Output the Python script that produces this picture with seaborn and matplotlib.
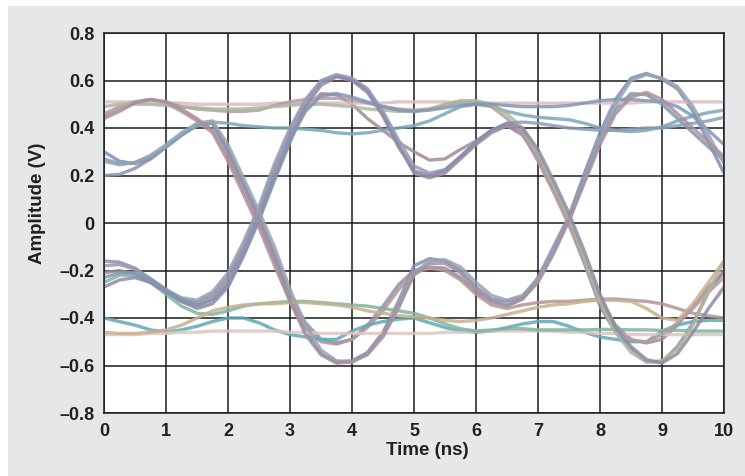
import pandas as pd
import matplotlib.pyplot as plt
import seaborn as sns
from matplotlib.patches import Rectangle

# sample times (ns) shared by every trace
time_ns = [0, 0.25, 0.5, 0.75, 1, 1.25, 1.5, 1.75, 2, 2.25,
           2.5, 2.75, 3, 3.25, 3.5, 3.75, 4, 4.25, 4.5, 4.75,
           5, 5.25, 5.5, 5.75, 6, 6.25, 6.5, 6.75, 7, 7.25,
           7.5, 7.75, 8, 8.25, 8.5, 8.75, 9, 9.25, 9.5, 9.75, 10]

# amplitude (V) of each captured trace
trace_a = [0.30, 0.26, 0.25, 0.27, 0.32, 0.37, 0.415, 0.42, 0.30, 0.16,
           0.02, -0.14, -0.32, -0.46, -0.55, -0.585, -0.58, -0.545, -0.46, -0.33,
           -0.18, -0.15, -0.16, -0.20, -0.27, -0.32, -0.33, -0.31, -0.23, -0.10,
           0.03, 0.21, 0.38, 0.52, 0.61, 0.63, 0.605, 0.565, 0.47, 0.34, 0.21]
trace_b = [-0.16, -0.165, -0.19, -0.235, -0.28, -0.325, -0.335, -0.305, -0.23, -0.10,
           0.05, 0.23, 0.38, 0.51, 0.595, 0.62, 0.605, 0.56, 0.46, 0.33,
           0.21, 0.19, 0.21, 0.27, 0.33, 0.38, 0.41, 0.38, 0.28, 0.15,
           0.00, -0.17, -0.35, -0.46, -0.53, -0.585, -0.585, -0.52, -0.42, -0.29, -0.20]
trace_c = [0.20, 0.205, 0.23, 0.27, 0.32, 0.37, 0.41, 0.42, 0.31, 0.17,
           0.03, -0.13, -0.30, -0.42, -0.49, -0.505, -0.49, -0.43, -0.35, -0.26,
           -0.20, -0.185, -0.19, -0.23, -0.29, -0.33, -0.35, -0.32, -0.24, -0.12,
           0.02, 0.19, 0.35, 0.48, 0.545, 0.54, 0.50, 0.44, 0.38, 0.32, 0.265]
trace_d = [-0.21, -0.20, -0.215, -0.25, -0.29, -0.33, -0.35, -0.32, -0.25, -0.12,
           0.03, 0.20, 0.36, 0.48, 0.545, 0.54, 0.50, 0.44, 0.39, 0.34,
           0.30, 0.265, 0.27, 0.31, 0.345, 0.39, 0.41, 0.37, 0.27, 0.14,
           0.01, -0.16, -0.32, -0.43, -0.49, -0.505, -0.49, -0.43, -0.35, -0.27, -0.21]
trace_e = [0.45, 0.48, 0.51, 0.52, 0.505, 0.47, 0.43, 0.38, 0.26, 0.12,
           -0.02, -0.18, -0.33, -0.44, -0.50, -0.51, -0.49, -0.44, -0.37, -0.28,
           -0.21, -0.19, -0.20, -0.24, -0.30, -0.345, -0.36, -0.345, -0.335, -0.33,
           -0.33, -0.325, -0.32, -0.32, -0.325, -0.33, -0.34, -0.36, -0.38, -0.39, -0.40]
trace_f = [-0.40, -0.415, -0.43, -0.45, -0.46, -0.45, -0.435, -0.415, -0.40, -0.40,
           -0.42, -0.45, -0.47, -0.48, -0.49, -0.49, -0.455, -0.43, -0.415, -0.405,
           -0.40, -0.42, -0.44, -0.455, -0.46, -0.455, -0.44, -0.425, -0.415, -0.415,
           -0.435, -0.46, -0.48, -0.49, -0.50, -0.50, -0.455, -0.43, -0.415, -0.41, -0.41]
trace_g = [-0.47, -0.47, -0.47, -0.465, -0.465, -0.46, -0.46, -0.455, -0.455, -0.455,
           -0.455, -0.455, -0.46, -0.46, -0.465, -0.465, -0.465, -0.465, -0.465, -0.465,
           -0.465, -0.465, -0.46, -0.46, -0.455, -0.455, -0.455, -0.455, -0.455, -0.455,
           -0.46, -0.46, -0.465, -0.465, -0.47, -0.47, -0.47, -0.47, -0.47, -0.47, -0.47]
trace_h = [-0.25, -0.22, -0.22, -0.25, -0.30, -0.35, -0.38, -0.385, -0.37, -0.35,
           -0.34, -0.335, -0.33, -0.33, -0.335, -0.34, -0.345, -0.35, -0.36, -0.37,
           -0.38, -0.40, -0.425, -0.445, -0.455, -0.45, -0.445, -0.445, -0.45, -0.45,
           -0.45, -0.45, -0.448, -0.448, -0.45, -0.45, -0.452, -0.452, -0.455, -0.455, -0.455]
trace_i = [0.51, 0.51, 0.51, 0.505, 0.505, 0.505, 0.50, 0.50, 0.50, 0.50,
           0.50, 0.505, 0.505, 0.505, 0.505, 0.505, 0.505, 0.505, 0.505, 0.51,
           0.51, 0.51, 0.51, 0.505, 0.505, 0.505, 0.505, 0.505, 0.505, 0.505,
           0.505, 0.505, 0.505, 0.505, 0.505, 0.51, 0.51, 0.51, 0.51, 0.51, 0.51]
trace_j = [0.27, 0.25, 0.255, 0.28, 0.32, 0.37, 0.41, 0.425, 0.42, 0.41,
           0.405, 0.40, 0.40, 0.395, 0.39, 0.38, 0.375, 0.38, 0.39, 0.40,
           0.41, 0.43, 0.46, 0.49, 0.50, 0.49, 0.47, 0.455, 0.445, 0.44,
           0.435, 0.42, 0.40, 0.39, 0.385, 0.39, 0.405, 0.43, 0.45, 0.465, 0.475]
trace_k = [0.46, 0.49, 0.51, 0.52, 0.51, 0.49, 0.48, 0.475, 0.47, 0.47,
           0.475, 0.495, 0.51, 0.52, 0.525, 0.525, 0.52, 0.505, 0.49, 0.48,
           0.475, 0.48, 0.495, 0.51, 0.51, 0.49, 0.44, 0.38, 0.26, 0.13,
           -0.01, -0.17, -0.33, -0.44, -0.495, -0.50, -0.47, -0.42, -0.36, -0.29, -0.23]
trace_l = [0.49, 0.50, 0.50, 0.50, 0.495, 0.49, 0.485, 0.48, 0.48, 0.48,
           0.485, 0.49, 0.495, 0.50, 0.50, 0.495, 0.49, 0.48, 0.475, 0.47,
           0.47, 0.48, 0.50, 0.515, 0.515, 0.50, 0.46, 0.40, 0.29, 0.16,
           0.02, -0.15, -0.33, -0.46, -0.545, -0.585, -0.58, -0.53, -0.43, -0.29, -0.16]
trace_m = [-0.18, -0.175, -0.195, -0.235, -0.28, -0.315, -0.325, -0.29, -0.21, -0.08,
           0.07, 0.25, 0.40, 0.52, 0.60, 0.625, 0.61, 0.565, 0.47, 0.35,
           0.24, 0.21, 0.225, 0.28, 0.34, 0.39, 0.42, 0.425, 0.42, 0.41,
           0.40, 0.395, 0.39, 0.39, 0.395, 0.40, 0.40, 0.41, 0.42, 0.43, 0.445]
trace_n = [-0.46, -0.465, -0.465, -0.46, -0.45, -0.43, -0.40, -0.37, -0.355, -0.345,
           -0.34, -0.34, -0.335, -0.335, -0.34, -0.345, -0.355, -0.37, -0.38, -0.39,
           -0.395, -0.40, -0.41, -0.415, -0.41, -0.40, -0.385, -0.37, -0.355, -0.345,
           -0.34, -0.33, -0.325, -0.325, -0.33, -0.36, -0.40, -0.41, -0.34, -0.25, -0.16]
trace_o = [-0.27, -0.24, -0.23, -0.25, -0.29, -0.33, -0.36, -0.34, -0.27, -0.14,
           0.01, 0.18, 0.34, 0.49, 0.58, 0.615, 0.60, 0.55, 0.45, 0.32,
           0.22, 0.20, 0.22, 0.28, 0.34, 0.39, 0.42, 0.40, 0.31, 0.18,
           0.04, -0.12, -0.30, -0.44, -0.52, -0.575, -0.59, -0.55, -0.46, -0.36, -0.27]
trace_p = [-0.23, -0.21, -0.21, -0.24, -0.285, -0.32, -0.345, -0.325, -0.26, -0.13,
           0.02, 0.19, 0.35, 0.47, 0.535, 0.545, 0.53, 0.51, 0.49, 0.475,
           0.47, 0.475, 0.485, 0.495, 0.50, 0.50, 0.495, 0.49, 0.49, 0.49,
           0.495, 0.505, 0.515, 0.52, 0.52, 0.515, 0.51, 0.49, 0.45, 0.39, 0.33]
trace_q = [0.26, 0.245, 0.255, 0.285, 0.33, 0.38, 0.42, 0.43, 0.33, 0.19,
           0.05, -0.10, -0.28, -0.43, -0.535, -0.58, -0.585, -0.555, -0.48, -0.36,
           -0.21, -0.16, -0.155, -0.185, -0.25, -0.305, -0.325, -0.305, -0.24, -0.12,
           0.01, 0.18, 0.35, 0.50, 0.60, 0.625, 0.61, 0.575, 0.49, 0.37, 0.25]
trace_r = [0.44, 0.47, 0.505, 0.52, 0.51, 0.48, 0.44, 0.39, 0.28, 0.14,
           0.00, -0.16, -0.33, -0.47, -0.555, -0.59, -0.585, -0.55, -0.47, -0.35,
           -0.22, -0.17, -0.17, -0.21, -0.28, -0.33, -0.345, -0.32, -0.25, -0.13,
           0.01, 0.17, 0.33, 0.46, 0.53, 0.55, 0.52, 0.46, 0.40, 0.34, 0.28]

trace_names = ['a', 'b', 'c', 'd', 'e', 'f', 'g', 'h', 'i',
               'j', 'k', 'l', 'm', 'n', 'o', 'p', 'q', 'r']
trace_values = [trace_a, trace_b, trace_c, trace_d, trace_e, trace_f, trace_g, trace_h, trace_i,
                trace_j, trace_k, trace_l, trace_m, trace_n, trace_o, trace_p, trace_q, trace_r]
trace_colors = ['#7d8fb3', '#9a8aa0', '#8a94a8', '#a48b96', '#b39495', '#5fa8b5', '#dcc6c0',
                '#7fb3a2', '#dbbcc0', '#78a7b8', '#b59aa5', '#a9b89c', '#8d9db8', '#c8b08e',
                '#8e8aa6', '#7f97b5', '#98a3b3', '#a98f9f']

x_ticks = [0, 1, 2, 3, 4, 5, 6, 7, 8, 9, 10]
y_ticks = [-0.8, -0.6, -0.4, -0.2, 0, 0.2, 0.4, 0.6, 0.8]
y_tick_labels = ['\u20130.8', '\u20130.6', '\u20130.4', '\u20130.2', '0', '0.2', '0.4', '0.6', '0.8']

sns.set_style("white")
plt.rcParams['font.family'] = ['Liberation Sans', 'DejaVu Sans']

rows = []
for name, values in zip(trace_names, trace_values):
    for t, v in zip(time_ns, values):
        rows.append({'time': t, 'amplitude': v, 'trace': name})
df = pd.DataFrame(rows)

fig = plt.figure(figsize=(7.45, 4.76), dpi=100, facecolor='white')
# light grey panel behind the chart
fig.patches.append(Rectangle((8 / 745, 0), 737 / 745, 470 / 476, transform=fig.transFigure,
                             facecolor='#e6e7e8', edgecolor='none', zorder=-10))
ax = fig.add_axes([104 / 745, 63 / 476, 620 / 745, 380 / 476])
ax.set_facecolor('white')

sns.lineplot(data=df, x='time', y='amplitude', hue='trace', estimator=None,
             palette=dict(zip(trace_names, trace_colors)), linewidth=2.4,
             alpha=0.85, legend=False, solid_joinstyle='round', ax=ax)

ax.set_xlim(0, 10)
ax.set_ylim(-0.8, 0.8)
ax.set_xticks(x_ticks)
ax.set_xticklabels([str(x) for x in x_ticks])
ax.set_yticks(y_ticks)
ax.set_yticklabels(y_tick_labels)
ax.set_axisbelow(True)
ax.grid(True, color='#1a1a1a', linewidth=1.1)
for sp in ax.spines.values():
    sp.set_color('#1a1a1a')
    sp.set_linewidth(1.1)
ax.tick_params(length=0, labelsize=13, pad=7)
for lbl in ax.get_xticklabels() + ax.get_yticklabels():
    lbl.set_fontweight('bold')
    lbl.set_color('#231f20')

ax.set_xlabel('Time (ns)', fontsize=13.5, fontweight='bold', color='#231f20')
ax.set_ylabel('Amplitude (V)', fontsize=13.5, fontweight='bold', color='#231f20')
ax.xaxis.set_label_coords(0.521, -0.076)
ax.yaxis.set_label_coords(-0.094, 0.551)

plt.savefig('out.png', dpi=100)
